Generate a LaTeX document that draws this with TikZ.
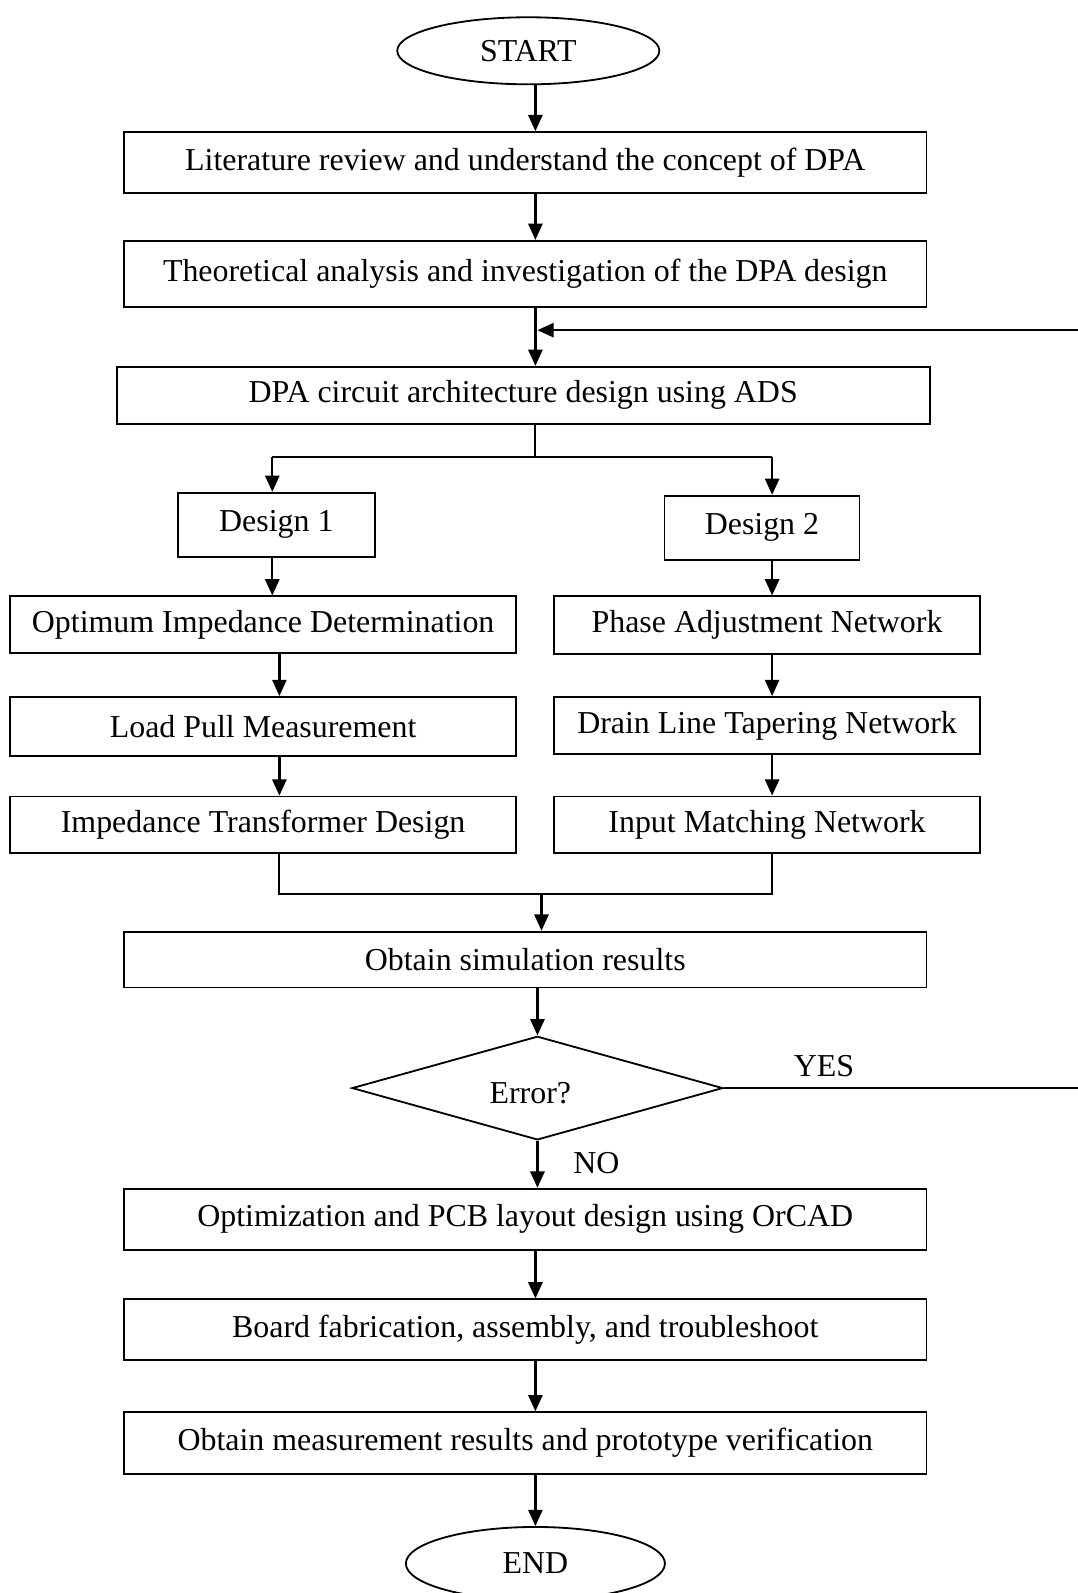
\documentclass[tikz,border=0pt]{standalone}
\usepackage{fontspec}
\setmainfont{Liberation Serif}
\usetikzlibrary{shapes.geometric,arrows.meta}
\begin{document}
\begin{tikzpicture}[x=0.5pt,y=-0.5pt,
  every node/.style={font=\fontsize{15.7}{18}\selectfont},
  box/.style={draw, line width=0.9pt, rectangle, inner sep=0pt, align=center},
  term/.style={draw, line width=0.9pt, ellipse, inner sep=0pt},
  dec/.style={draw, line width=0.9pt, diamond, inner sep=0pt},
  arr/.style={line width=1.1pt, -{Triangle[length=8pt,width=7pt]}},
  ln/.style={line width=0.9pt}]
\useasboundingbox (0,0) rectangle (1061,1568);

% nodes
\node[term, minimum width=129pt, minimum height=33pt] (start) at (520,50) {START};
\node[box, minimum width=395pt, minimum height=30pt] (lit) at (517,160) {Literature review and understand the concept of DPA};
\node[box, minimum width=395pt, minimum height=32.5pt] (theo) at (517,269.5) {Theoretical analysis and investigation of the DPA design};
\node[box, minimum width=400pt, minimum height=28pt] (dpa) at (515,389) {DPA circuit architecture design using ADS};
\node[box, minimum width=97pt, minimum height=31.5pt] (d1) at (272,516.5) {Design 1};
\node[box, minimum width=96pt, minimum height=31.5pt] (d2) at (750,519.5) {Design 2};
\node[box, minimum width=249pt, minimum height=28pt] (opt) at (259,615) {Optimum Impedance Determination};
\node[box, minimum width=249pt, minimum height=29pt] (load) at (259,715) {Load Pull Measurement};
\node[box, minimum width=249pt, minimum height=28pt] (imp) at (259,812) {Impedance Transformer Design};
\node[box, minimum width=210pt, minimum height=28.5pt] (phase) at (755,615.5) {Phase Adjustment Network};
\node[box, minimum width=210pt, minimum height=28pt] (drain) at (755,714) {Drain Line Tapering Network};
\node[box, minimum width=210pt, minimum height=28pt] (inp) at (755,812) {Input Matching Network};
\node[box, minimum width=395pt, minimum height=27.5pt] (sim) at (517,944.5) {Obtain simulation results};
\node[dec, minimum width=182.5pt, minimum height=51pt] (err) at (529,1071) {};
\node (errt) at (522,1076) {Error?};
\node (yes) at (811,1049) {YES};
\node (no) at (587,1145) {NO};
\node[box, minimum width=395pt, minimum height=30pt] (orc) at (517,1200) {Optimization and PCB layout design using OrCAD};
\node[box, minimum width=395pt, minimum height=30pt] (board) at (517,1309) {Board fabrication, assembly, and troubleshoot};
\node[box, minimum width=395pt, minimum height=30.5pt] (meas) at (517,1420.5) {Obtain measurement results and prototype verification};
\node[term, minimum width=127.5pt, minimum height=36pt] (end) at (527,1539) {END};

% helper coordinates
\coordinate (ax) at (527,0);
\coordinate (lp) at (529,325);
\coordinate (split) at (527,450);
\coordinate (sl) at (268,450);
\coordinate (sr) at (760,450);
\coordinate (cl) at (275,0);
\coordinate (cr) at (760,0);
\coordinate (mg) at (533,880);
\coordinate (rr) at (1064,0);

% connectors
\draw[arr] (start.south -| ax) -- (lit.north -| ax);
\draw[arr] (lit.south -| ax) -- (theo.north -| ax);
\draw[arr] (theo.south -| ax) -- (dpa.north -| ax);
\draw[ln] (dpa.south -| ax) -- (split);
\draw[ln] (sl) -- (sr);
\draw[arr] (sl) -- (sl |- d1.north);
\draw[arr] (sr) -- (sr |- d2.north);
\draw[arr] (d1.south -| sl) -- (opt.north -| sl);
\draw[arr] (opt.south -| cl) -- (load.north -| cl);
\draw[arr] (load.south -| cl) -- (imp.north -| cl);
\draw[arr] (d2.south -| cr) -- (phase.north -| cr);
\draw[arr] (phase.south -| cr) -- (drain.north -| cr);
\draw[arr] (drain.south -| cr) -- (inp.north -| cr);
\draw[ln] (imp.south -| cl) |- (mg) -| (inp.south -| cr);
\draw[arr] (mg) -- (sim.north -| mg);
\draw[arr] (sim.south -| err.north) -- (err.north);
\draw[arr] (err.south) -- (orc.north -| err.south);
\draw[arr] (err.east) -- (err.east -| rr) -- (rr |- lp) -- (lp);
\draw[arr] (orc.south -| ax) -- (board.north -| ax);
\draw[arr] (board.south -| ax) -- (meas.north -| ax);
\draw[arr] (meas.south -| ax) -- (end.north -| ax);
\end{tikzpicture}
\end{document}
